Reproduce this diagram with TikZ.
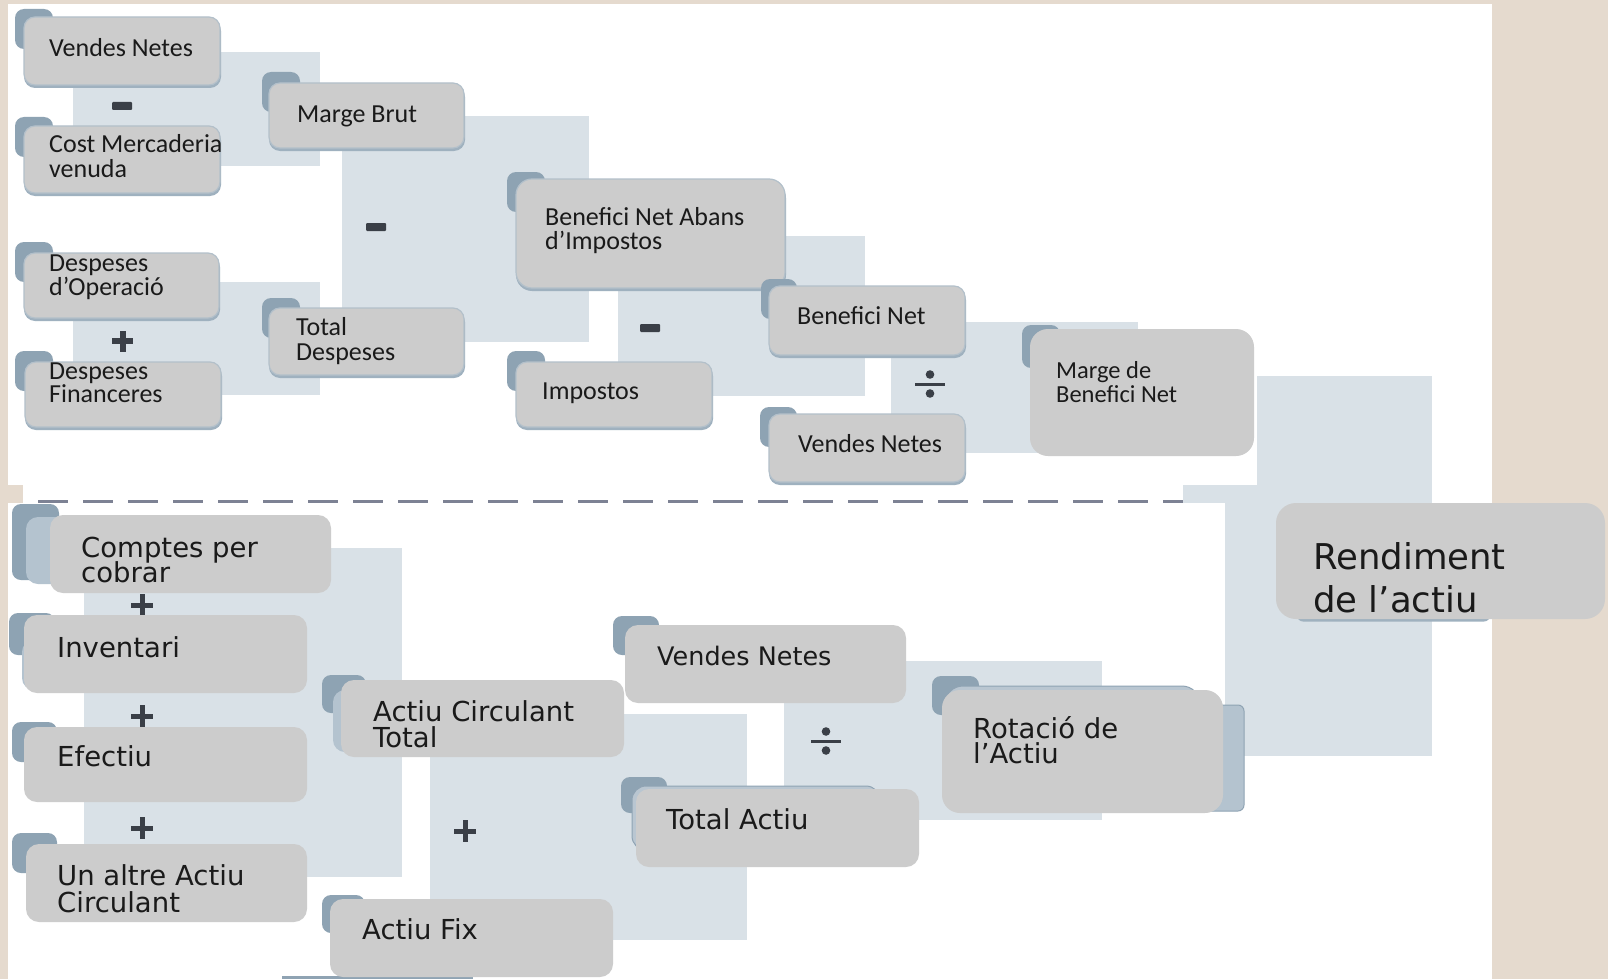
\documentclass[tikz,border=0pt]{standalone}
\usepackage{fontspec}
\setmainfont{Carlito}
\newfontfamily\vfont{DejaVu Sans}
\definecolor{beigec}{HTML}{E5DACE}
\definecolor{linkc}{HTML}{D9E1E7}
\definecolor{boxc}{HTML}{CCCCCC}
\definecolor{tabc}{HTML}{8EA3B3}
\definecolor{shadc}{HTML}{9FB1BF}
\definecolor{edgec}{HTML}{B3C0CA}
\definecolor{lightc}{HTML}{B4C3CF}
\definecolor{backc}{HTML}{B9C6D1}
\definecolor{backedge}{HTML}{8FA3B3}
\definecolor{signc}{HTML}{3A3F47}
\definecolor{dashc}{HTML}{7D8294}
\definecolor{txtc}{HTML}{1A1A1A}
\tikzset{
  linkrect/.style={fill=linkc},
  tabshape/.style={fill=tabc, rounded corners=9pt},
  shadowshape/.style={fill=shadc},
  topboxshape/.style={fill=boxc, draw=edgec, line width=1.2pt, inner sep=0pt, outer sep=0pt},
  botboxshape/.style={fill=boxc, inner sep=0pt, outer sep=0pt},
  lightshape/.style={fill=lightc, rounded corners=12pt},
  backshape/.style={fill=backc, draw=backedge, line width=1pt},
  ttop/.style={anchor=base west, inner sep=0pt, text=txtc, font=\fontsize{26}{24}\selectfont},
  tbot/.style={anchor=base west, inner sep=0pt, text=txtc, font=\vfont\fontsize{27.5}{26}\selectfont},
  tbig/.style={anchor=base west, inner sep=0pt, text=txtc, font=\vfont\fontsize{35.5}{34}\selectfont},
}
\newcommand\tabsq[4]{\path[tabshape] (#1,#2) rectangle (#3,#4);}
\newcommand\topbox[6]{%
  \path[shadowshape, rounded corners=#6] (#2,#3+3) rectangle (#4+1,#5+3);
  \node[topboxshape, rounded corners=#6, minimum width={#4-#2}, minimum height={#5-#3}, anchor=north west] (#1) at (#2,#3) {};}
\newcommand\botbox[6]{%
  \node[botboxshape, rounded corners=#6, minimum width={#4-#2}, minimum height={#5-#3}, anchor=north west] (#1) at (#2,#3) {};}
\newcommand\minussign[2]{\fill[signc, rounded corners=1pt] (#1-10,#2-4) rectangle (#1+10,#2+4);}
\newcommand\plussign[4]{%
  \fill[signc] (#1-#3,#2-#4/2) rectangle (#1+#3,#2+#4/2);
  \fill[signc] (#1-#4/2,#2-#3) rectangle (#1+#4/2,#2+#3);}
\newcommand\divsign[2]{%
  \fill[signc] (#1-15,#2-1.5) rectangle (#1+15,#2+1.5);
  \fill[signc] (#1,#2-9.5) circle (4.3);
  \fill[signc] (#1,#2+9.5) circle (4.3);}
\begin{document}
\begin{tikzpicture}[x=1pt,y=-1pt]
\useasboundingbox (0,0) rectangle (1608,979);
% background
\fill[beigec] (0,0) rectangle (1608,979);
\fill[white] (8,4) rectangle (1492,979);
\fill[beigec] (0,485) rectangle (23,503);
% link rectangles
\path[linkrect] (73,52) rectangle (320,166);
\path[linkrect] (73,282) rectangle (320,395);
\path[linkrect] (342,116) rectangle (589,342);
\path[linkrect] (618,236) rectangle (865,396);
\path[linkrect] (891,322) rectangle (1138,453);
\path[linkrect] (1257,376) rectangle (1432,756);
\path[linkrect] (1183,485) rectangle (1432,503);
\path[linkrect] (1225,503) rectangle (1432,756);
\path[linkrect] (84,548) rectangle (402,877);
\path[linkrect] (430,714) rectangle (747,940);
\path[linkrect] (784,661) rectangle (1102,820);
% operator signs
\minussign{122}{106}
\plussign{122.5}{341}{10.5}{6}
\minussign{376}{227}
\minussign{650}{328}
\divsign{930}{384}
\plussign{142}{605}{11}{5}
\plussign{142}{716}{11}{5}
\plussign{142}{828}{11}{5}
\plussign{465}{831}{11}{5}
\divsign{826}{741}
% ---- top section ----
\tabsq{15}{9}{53}{49}
\topbox{vn1}{24}{17}{220}{85}{11pt}
\node[ttop] (vn1t) at (49,57) {Vendes Netes};
\tabsq{15}{117}{53}{157}
\topbox{cmv}{24}{126}{220}{193}{11pt}
\node[ttop] (cmvt1) at (49,153) {Cost Mercaderia};
\node[ttop] (cmvt2) at (49,177) {venuda};
\tabsq{262}{72}{300}{112}
\topbox{mb}{269}{83}{464}{148}{11pt}
\node[ttop] (mbt) at (297,123) {Marge Brut};
\tabsq{15}{242}{53}{282}
\topbox{dop}{24}{253}{219}{318}{11pt}
\node[ttop] (dopt1) at (49,271) {Despeses};
\node[ttop] (dopt2) at (49,295) {d’Operació};
\tabsq{15}{351}{53}{391}
\topbox{dfi}{25}{362}{221}{427}{11pt}
\node[ttop] (dfit1) at (49,379) {Despeses};
\node[ttop] (dfit2) at (49,402) {Financeres};
\tabsq{262}{298}{300}{338}
\topbox{td}{269}{308}{464}{375}{11pt}
\node[ttop] (tdt1) at (296,335) {Total};
\node[ttop] (tdt2) at (296,360) {Despeses};
\tabsq{507}{172}{545}{212}
\topbox{bnai}{516}{179}{785}{288}{16pt}
\node[ttop] (bnait1) at (545,225) {Benefici Net Abans};
\node[ttop] (bnait2) at (545,249) {d’Impostos};
\tabsq{507}{351}{545}{391}
\topbox{imp}{516}{362}{712}{427}{11pt}
\node[ttop] (impt) at (542,399) {Impostos};
\tabsq{761}{279}{797}{319}
\topbox{bn}{769}{286}{965}{355}{11pt}
\node[ttop] (bnt) at (797,324) {Benefici Net};
\tabsq{760}{407}{797}{447}
\topbox{vn2}{769}{414}{965}{482}{11pt}
\node[ttop] (vn2t) at (798,452) {Vendes Netes};
\tabsq{1022}{325}{1060}{368}
\node[botboxshape, rounded corners=18pt, minimum width=224, minimum height=127, anchor=north west] (mbn) at (1030,329) {};
\node[ttop, font=\fontsize{24.5}{22}\selectfont] (mbnt1) at (1056,378) {Marge de};
\node[ttop, font=\fontsize{24.5}{22}\selectfont] (mbnt2) at (1056,402) {Benefici Net};
% separator
\coordinate (dl) at (38,501);
\coordinate (dr) at (1183,501);
\draw[dashc, line width=3pt, dash pattern=on 30pt off 15pt] (dl) -- (dr);
% ---- bottom section ----
\tabsq{12}{504}{59}{580}
\path[lightshape] (26,517) rectangle (120,584);
\botbox{cpc}{50}{515}{331}{593}{13pt}
\node[tbot] (cpct1) at (81,557) {Comptes per};
\node[tbot] (cpct2) at (81,582) {cobrar};
\tabsq{9}{613}{55}{655}
\path[lightshape] (22,640) rectangle (80,690);
\botbox{inv}{24}{615}{307}{693}{13pt}
\node[tbot] (invt) at (57,657) {Inventari};
\tabsq{12}{722}{57}{762}
\botbox{efe}{24}{727}{307}{802}{13pt}
\node[tbot] (efet) at (57,766) {Efectiu};
\tabsq{12}{833}{57}{873}
\botbox{uaac}{26}{844}{307}{922}{13pt}
\node[tbot] (uaact1) at (57,885) {Un altre Actiu};
\node[tbot] (uaact2) at (57,912) {Circulant};
\tabsq{322}{675}{366}{713}
\path[lightshape] (333,690) rectangle (400,752);
\botbox{act}{341}{680}{624}{757}{13pt}
\node[tbot] (actt1) at (373,721) {Actiu Circulant};
\node[tbot] (actt2) at (373,747) {Total};
\tabsq{322}{895}{365}{933}
\fill[backedge] (282,976) rectangle (473,979);
\botbox{af}{330}{899}{613}{977}{13pt}
\node[tbot] (aft) at (362,939) {Actiu Fix};
\tabsq{613}{616}{659}{655}
\botbox{vn3}{625}{625}{906}{703}{13pt}
\node[tbot, font=\vfont\fontsize{25.5}{26}\selectfont] (vn3t) at (657,665) {Vendes Netes};
\tabsq{621}{777}{667}{813}
\path[backshape, rounded corners=14pt] (632,786) rectangle (880,850);
\botbox{ta}{636}{789}{919}{867}{13pt}
\node[tbot] (tat) at (666,829) {Total Actiu};
\tabsq{932}{676}{979}{715}
\path[backshape, rounded corners=18pt] (945,686) rectangle (1200,760);
\path[backshape, fill=lightc, rounded corners=6pt] (1200,705) rectangle (1244,811);
\botbox{rot}{942}{690}{1223}{813}{18pt}
\node[tbot] (rott1) at (973,738) {Rotació de};
\node[tbot] (rott2) at (973,763) {l’Actiu};
% result
\path[fill=shadc, rounded corners=6pt] (1297,560) rectangle (1490,621.5);
\botbox{ra}{1276}{503}{1605}{619}{20pt}
\node[tbig] (rat1) at (1313,569) {Rendiment};
\node[tbig] (rat2) at (1313,612) {de l’actiu};
\end{tikzpicture}
\end{document}
